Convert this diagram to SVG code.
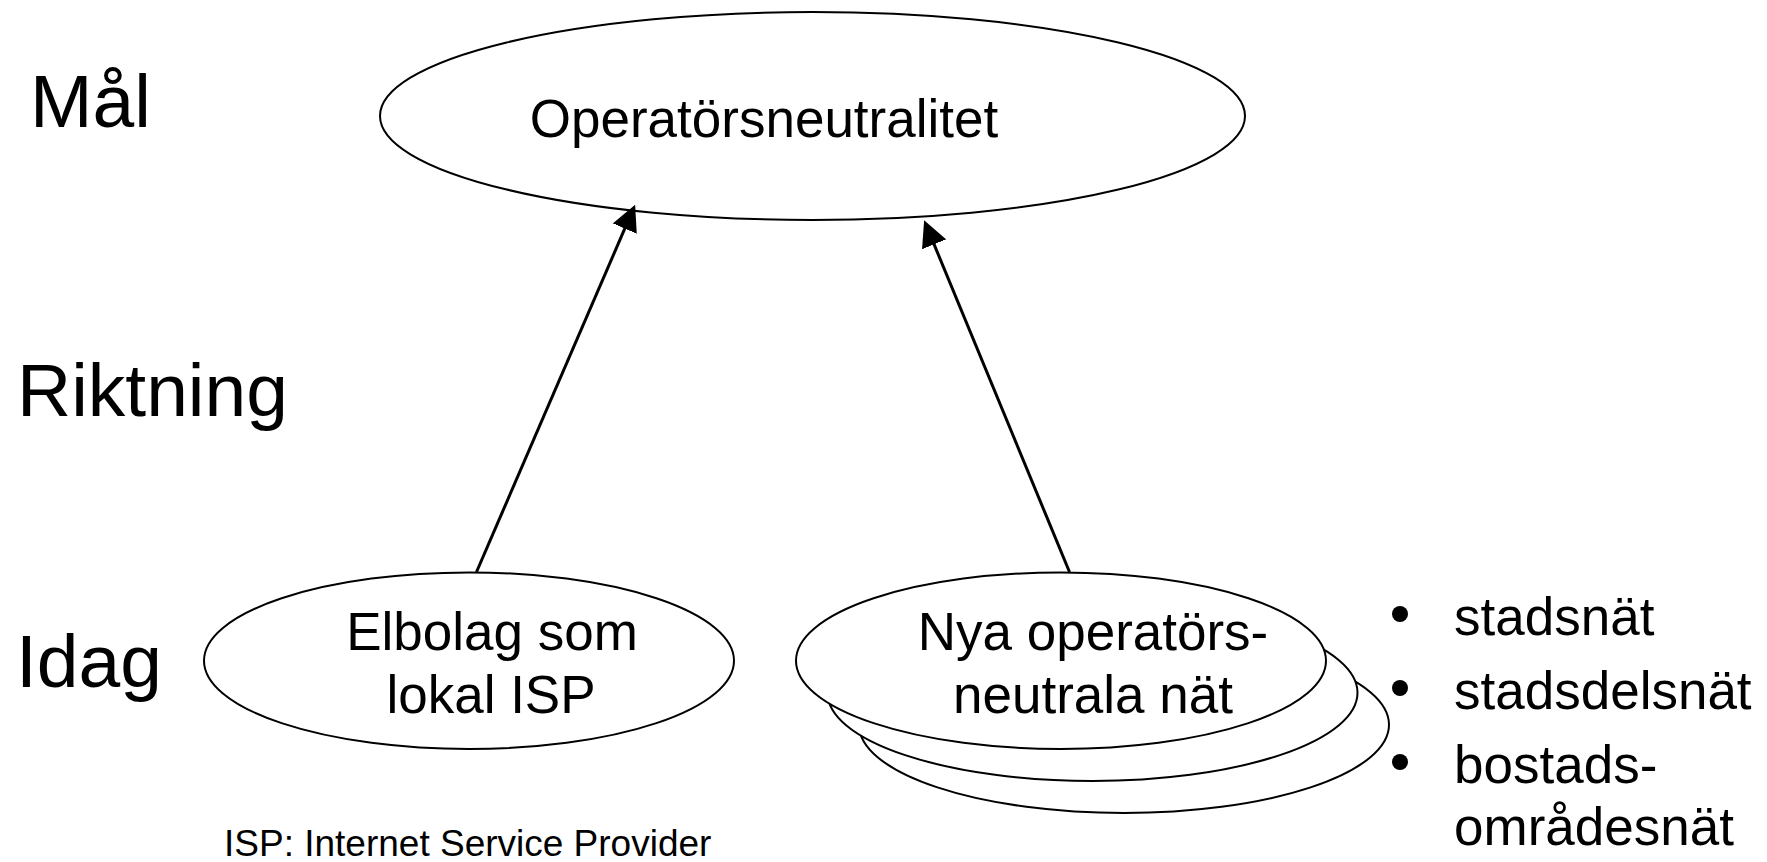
<svg xmlns="http://www.w3.org/2000/svg" width="1767" height="862" viewBox="0 0 1767 862">
<defs>
<style>
text{font-family:"Liberation Sans",Arial,sans-serif;fill:#000}
.lvl{font-size:75px}
.nt{font-size:53px;text-anchor:middle}
.bl{font-size:53px}
.ft{font-size:37px}
ellipse{fill:#fff;stroke:#000;stroke-width:2}
.conn line{stroke:#000;stroke-width:3}
</style>
<marker id="ah" markerUnits="userSpaceOnUse" markerWidth="26" markerHeight="26" viewBox="0 0 25 25" refX="15" refY="12.5" orient="auto">
<path d="M0,0 L25,12.5 L0,25 z" fill="#000"/>
</marker>
</defs>
<rect width="1767" height="862" fill="#fff"/>
<g id="levels">
<text class="lvl" x="30" y="127">Mål</text>
<text class="lvl" x="17" y="416">Riktning</text>
<text class="lvl" x="16" y="687">Idag</text>
</g>
<g id="goal">
<ellipse cx="812.5" cy="116" rx="432.5" ry="104"/>
<text class="nt" x="764" y="137">Operatörsneutralitet</text>
</g>
<g id="elbolag">
<ellipse cx="469" cy="660.7" rx="265" ry="88.3"/>
<text class="nt" x="492" y="650">Elbolag som</text>
<text class="nt" x="491" y="713">lokal ISP</text>
</g>
<g id="nya">
<ellipse cx="1124" cy="724.7" rx="265" ry="88.3"/>
<ellipse cx="1092.5" cy="692.7" rx="265" ry="88.3"/>
<ellipse cx="1061" cy="660.7" rx="265" ry="88.3"/>
<text class="nt" x="1093" y="650">Nya operatörs-</text>
<text class="nt" x="1093" y="713">neutrala nät</text>
</g>
<g id="bullets">
<circle cx="1400" cy="614" r="8"/>
<circle cx="1400" cy="688" r="8"/>
<circle cx="1400" cy="762" r="8"/>
<text class="bl" x="1454" y="635">stadsnät</text>
<text class="bl" x="1454" y="709">stadsdelsnät</text>
<text class="bl" x="1454" y="783">bostads-</text>
<text class="bl" x="1454" y="845">områdesnät</text>
</g>
<g id="footnote">
<text class="ft" x="224" y="856">ISP: Internet Service Provider</text>
</g>
<g class="conn" id="connectors">
<line x1="476.5" y1="572" x2="631" y2="214.2" marker-end="url(#ah)"/>
<line x1="1069.5" y1="572" x2="928.1" y2="229.9" marker-end="url(#ah)"/>
</g>
</svg>
